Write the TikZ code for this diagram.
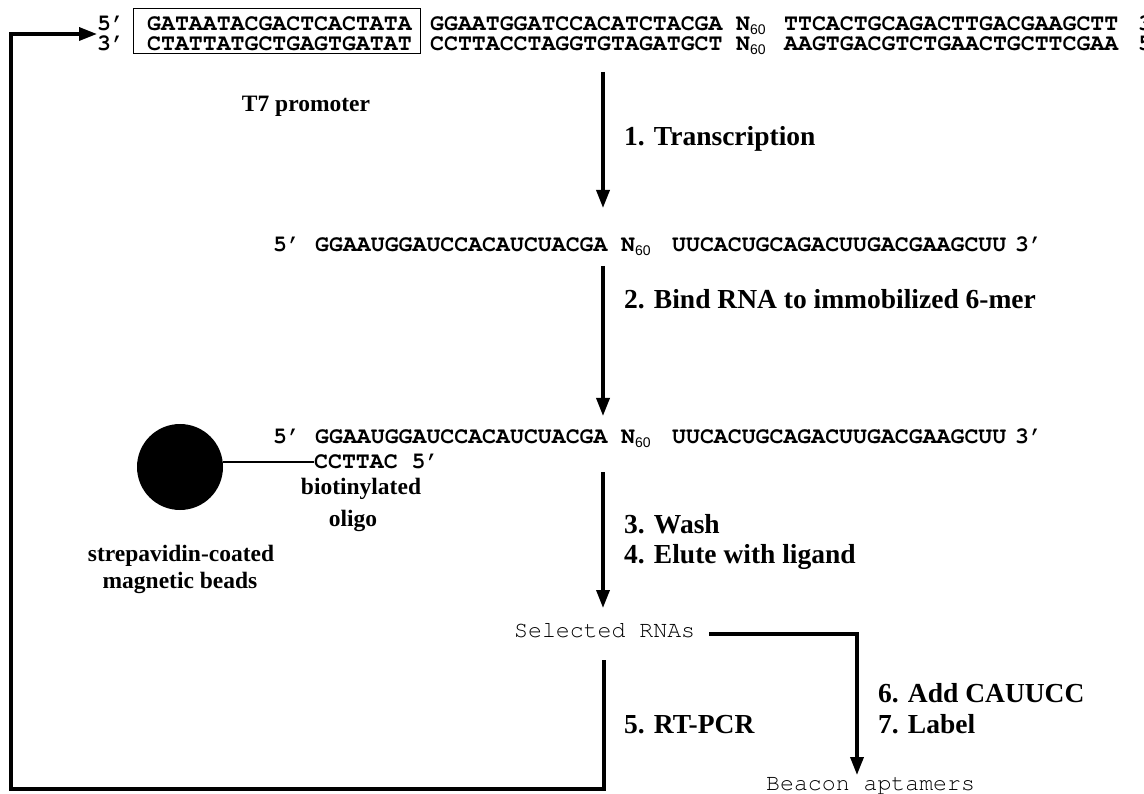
\documentclass[tikz,border=0pt]{standalone}
\usepackage[T1]{fontenc}
\usepackage{fontspec}
\setmainfont{Liberation Serif}
\setmonofont{Liberation Mono}
\setsansfont{Liberation Sans}
\usetikzlibrary{arrows.meta}
\newcommand{\courbold}{\fontencoding{T1}\fontfamily{pcr}\fontseries{b}\fontshape{n}\selectfont}
\newcommand{\courplain}{\fontencoding{T1}\fontfamily{pcr}\fontseries{m}\fontshape{n}\selectfont}
\newcommand{\subsixty}{\raisebox{-4pt}{\fontsize{14}{14}\usefont{TU}{\sfdefault}{m}{n}60}}
\begin{document}
\begin{tikzpicture}[x=1pt,y=-1pt,
  seq/.style={font=\fontsize{23.2}{24}\courbold, inner sep=0pt, anchor=base west},
  plainseq/.style={font=\fontsize{23.2}{24}\courplain, inner sep=0pt, anchor=base west},
  steplabel/.style={font=\fontsize{27.5}{30}\selectfont\bfseries, inner sep=0pt, anchor=base west},
  beadlabel/.style={font=\fontsize{23.5}{26}\selectfont\bfseries, inner sep=0pt, anchor=base},
  flow/.style={line width=3.5pt, -{Triangle[length=18pt,width=13pt]}}]
\useasboundingbox (0,0) rectangle (1144,794);
\fill[white] (0,0) rectangle (1144,794);

% ---- top double strand ----
\node[draw, line width=1.4pt, minimum width=287pt, minimum height=45pt, anchor=north west, inner sep=0pt] (promoterbox) at (133,8) {};
\node[seq] (t5) at (97,31) {5'};
\node[seq] (tpro) at (147,31) {GATAATACGACTCACTATA};
\node[seq] (tfwd) at (430,31) {GGAATGGATCCACATCTACGA};
\node[seq] (tN) at (736,31) {N\subsixty};
\node[seq] (trev) at (784,31) {TTCACTGCAGACTTGACGAAGCTT};
\node[seq] (t3end) at (1138,31) {3'};
\node[seq] (b3) at (97,51) {3'};
\node[seq] (bpro) at (147,51) {CTATTATGCTGAGTGATAT};
\node[seq] (bfwd) at (430,51) {CCTTACCTAGGTGTAGATGCT};
\node[seq] (bN) at (736,51) {N\subsixty};
\node[seq] (brev) at (784,51) {AAGTGACGTCTGAACTGCTTCGAA};
\node[seq] (b5end) at (1138,51) {5'};
\node[beadlabel] (t7) at (306,112) {T7 promoter};

% ---- transcript ----
\node[seq] (m5) at (273,252) {5'};
\node[seq] (mfwd) at (315,252) {GGAAUGGAUCCACAUCUACGA};
\node[seq] (mN) at (621,252) {N\subsixty};
\node[seq] (mrev) at (672,252) {UUCACUGCAGACUUGACGAAGCUU};
\node[seq] (m3) at (1015,252) {3'};

% ---- bound RNA ----
\node[seq] (r5) at (273,443) {5'};
\node[seq] (rfwd) at (315,443) {GGAAUGGAUCCACAUCUACGA};
\node[seq] (rN) at (621,443) {N\subsixty};
\node[seq] (rrev) at (672,443) {UUCACUGCAGACUUGACGAAGCUU};
\node[seq] (r3) at (1015,443) {3'};
\node[seq] (oligo) at (314,468) {CCTTAC 5'};
\node[circle, fill=black, minimum size=86pt, inner sep=0pt] (bead) at (180,467) {};
\draw[line width=1.3pt] (bead.east |- 0,462) -- (oligo.west |- 0,462);
\node[beadlabel] (biot) at (361,494) {biotinylated};
\node[beadlabel] (olig) at (353,526) {oligo};
\node[beadlabel] (strep) at (181,561) {strepavidin-coated};
\node[beadlabel] (magn) at (180,588) {magnetic beads};

% ---- selected ----
\node[plainseq] (sel) at (514,637) {Selected RNAs};
\node[plainseq] (beacon) at (766,790) {Beacon aptamers};

% ---- step labels ----
\node[steplabel] (s1) at (624,146) {1. Transcription};
\node[steplabel] (s2) at (624,309) {2. Bind RNA to immobilized 6-mer};
\node[steplabel] (s3) at (624,533) {3. Wash};
\node[steplabel] (s4) at (624,563) {4. Elute with ligand};
\node[steplabel] (s5) at (624,733) {5. RT-PCR};
\node[steplabel] (s6) at (878,702) {6. Add CAUUCC};
\node[steplabel] (s7) at (878,733) {7. Label};

% ---- connectors ----
\coordinate (a1s) at (603,72);
\coordinate (a1e) at (603,208);
\coordinate (a2s) at (603,266);
\coordinate (a2e) at (603,416);
\coordinate (a3s) at (603,472);
\coordinate (a3e) at (603,608);
\draw[flow] (a1s) -- (a1e);
\draw[flow] (a2s) -- (a2e);
\draw[flow] (a3s) -- (a3e);
\coordinate (loopstart) at (604,660);
\coordinate (loopcorner1) at (604,789);
\coordinate (loopcorner2) at (11,789);
\coordinate (loopcorner3) at (11,34);
\draw[flow] (loopstart) -- (loopcorner1) -- (loopcorner2) -- (loopcorner3) -- (t5.west |- 0,34);
\coordinate (branchstart) at (709,634);
\coordinate (branchcorner) at (857,634);
\coordinate (branchend) at (857,775);
\draw[flow] (branchstart) -- (branchcorner) -- (branchend);
\end{tikzpicture}
\end{document}
